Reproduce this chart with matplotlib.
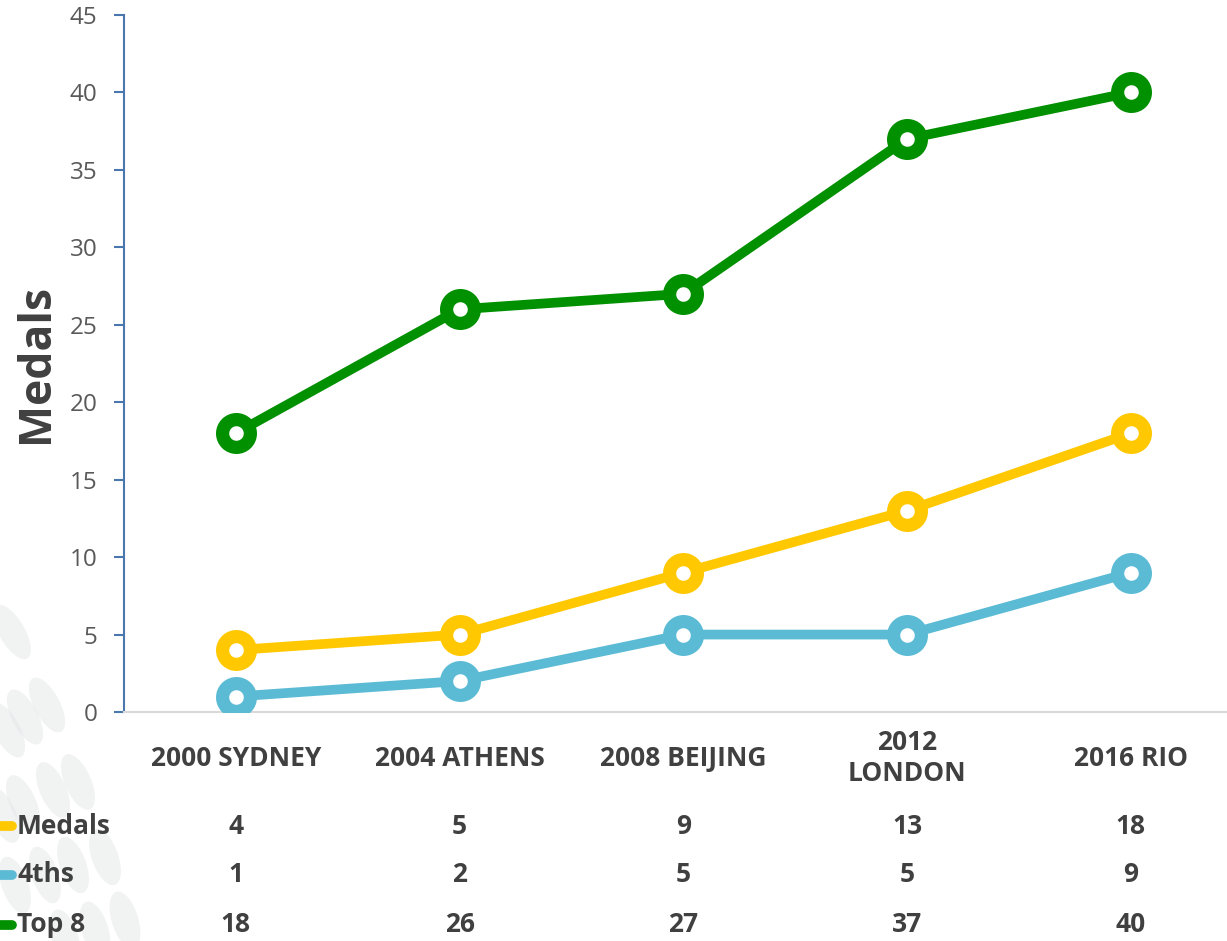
import numpy as np
import matplotlib.pyplot as plt
from matplotlib.patches import Ellipse
from matplotlib.transforms import blended_transform_factory

games = ['2000 SYDNEY', '2004 ATHENS', '2008 BEIJING', '2012\nLONDON', '2016 RIO']
medals = [4, 5, 9, 13, 18]
fourths = [1, 2, 5, 5, 9]
top8 = [18, 26, 27, 37, 40]

series_names = ['Medals', '4ths', 'Top 8']
series_vals = [medals, fourths, top8]
series_cols = ['#ffc800', '#5bbbd5', '#009000']

plt.rcParams['font.family'] = ['Open Sans', 'DejaVu Sans']

fig = plt.figure(figsize=(12.27, 9.41), dpi=100)

# faint decorative ovals behind the chart (bottom left)
for cx, cy, a in [(12, 632, 22), (47, 705, 20), (25, 717, 20), (7, 730, 20),
                  (78, 782, 17), (53, 790, 17), (23, 803, 17), (3, 815, 17),
                  (105, 857, 14), (73, 865, 14), (45, 875, 14), (15, 885, 14),
                  (125, 920, 12), (95, 930, 12), (65, 938, 12)]:
    e = Ellipse((cx / 1227, 1 - cy / 941), 27 / 1227, 58 / 941, angle=a,
                transform=fig.transFigure, facecolor='#e4e6e7', edgecolor='none',
                alpha=0.5, zorder=0)
    fig.patches.append(e)

ax = fig.add_axes([124 / 1227, 1 - 712 / 941, 1 - 124 / 1227, (712 - 15) / 941])
ax.patch.set_alpha(0)

x = np.arange(len(games))
for vals, col in zip(series_vals, series_cols):
    ax.plot(x, vals, color=col, linewidth=7, marker='o', markersize=20,
            markerfacecolor='white', markeredgecolor=col, markeredgewidth=9.5,
            solid_capstyle='round', zorder=3)

ax.set_xlim(-0.5, 4.43)
ax.set_ylim(0, 45)
ax.set_yticks(np.arange(0, 46, 5))
ax.set_xticks([])
ax.tick_params(axis='y', colors='#4a77ad', length=7, width=1.5, direction='out',
               labelsize=17.5, labelcolor='#595959', pad=12)
for s in ['top', 'right']:
    ax.spines[s].set_visible(False)
ax.spines['left'].set_color('#4a77ad')
ax.spines['left'].set_linewidth(1.5)
ax.spines['bottom'].set_color('#d9d9d9')
ax.spines['bottom'].set_linewidth(1.5)

fig.text(36 / 1227, 1 - 363 / 941, 'Medals', rotation=90, fontsize=32,
         fontweight='bold', color='#404040', ha='center', va='center')

# category labels and data table
tr = blended_transform_factory(ax.transData, fig.transFigure)
for i, g in enumerate(games):
    ax.text(i, 1 - 758 / 941, g, transform=tr, ha='center', va='center',
            fontsize=19, fontweight='bold', color='#404040', linespacing=1.2)

row_y = [826, 875, 925]
for name, vals, col, yy in zip(series_names, series_vals, series_cols, row_y):
    yf = 1 - yy / 941
    fig.add_artist(plt.Line2D([0, 12 / 1227], [yf, yf], transform=fig.transFigure,
                              color=col, linewidth=7, solid_capstyle='round'))
    fig.text(17 / 1227, yf, name, fontsize=19, fontweight='bold', color='#404040',
             ha='left', va='center')
    for i, v in enumerate(vals):
        ax.text(i, yf, str(v), transform=tr, ha='center', va='center',
                fontsize=19, fontweight='bold', color='#404040')

fig.savefig('out.png', dpi=100)
